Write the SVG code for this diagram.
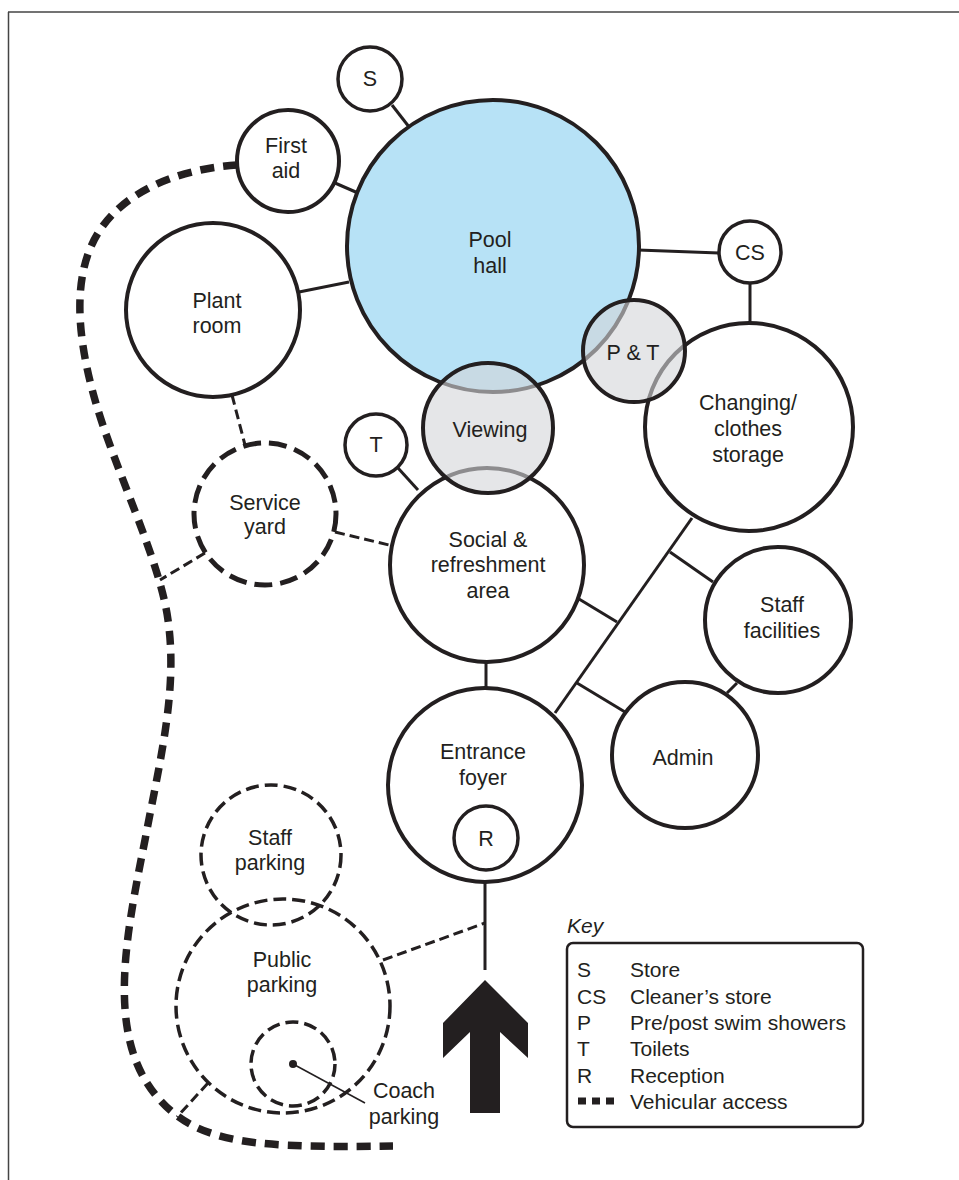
<svg xmlns="http://www.w3.org/2000/svg" width="959" height="1180" viewBox="0 0 959 1180">
<style>
text{font-family:"Liberation Sans",Arial,sans-serif;fill:#231f20;text-anchor:middle;font-size:21.5px}
.k{text-anchor:start;font-size:21px}
.n{fill:#fff;stroke:#231f20;stroke-width:4}
.sm{fill:#fff;stroke:#231f20;stroke-width:3.5}
.ov{fill:#d4d5d8;fill-opacity:0.6;stroke:#231f20;stroke-width:4}
.dc{fill:#fff;stroke:#231f20;stroke-width:3.5;stroke-dasharray:13 6}
.dy{fill:#fff;stroke:#231f20;stroke-width:5;stroke-dasharray:18 8}
.ln{stroke:#231f20;stroke-width:3;fill:none}
.dl{stroke:#231f20;stroke-width:3;fill:none;stroke-dasharray:10 5}
.va{stroke:#231f20;stroke-width:7.5;fill:none;stroke-dasharray:14 9}
</style>
<rect width="959" height="1180" fill="#fff"/>
<g id="frame" stroke="#444" stroke-width="1.5" fill="none">
<line x1="8" y1="12" x2="959" y2="12"/>
<line x1="8.5" y1="12" x2="8.5" y2="1180"/>
</g>
<g id="connectors">
<path class="va" d="M237,165 C190,168 130,185 100,230 C70,275 78,340 95,400 C115,470 160,560 168,620 C178,690 160,760 145,840 C125,940 105,1040 160,1100 C200,1145 260,1148 393,1146"/>
<line class="ln" x1="392" y1="105" x2="413" y2="132"/>
<line class="ln" x1="335" y1="183" x2="358" y2="193"/>
<line class="ln" x1="299" y1="292" x2="349" y2="282"/>
<line class="ln" x1="638" y1="250" x2="719" y2="253"/>
<line class="ln" x1="750" y1="283" x2="750" y2="323"/>
<line class="ln" x1="398" y1="468" x2="418" y2="490"/>
<line class="ln" x1="486" y1="662" x2="486" y2="688"/>
<line class="ln" x1="692" y1="518" x2="555" y2="713"/>
<line class="ln" x1="617" y1="622" x2="579" y2="599"/>
<line class="ln" x1="670" y1="552" x2="713" y2="582"/>
<line class="ln" x1="577" y1="683" x2="625" y2="712"/>
<line class="ln" x1="727" y1="693" x2="737" y2="683"/>
<line class="ln" x1="485" y1="882" x2="485" y2="970"/>
<line class="dl" x1="232" y1="395" x2="245" y2="445"/>
<line class="dl" x1="335" y1="532" x2="389" y2="545"/>
<line class="dl" x1="205" y1="553" x2="160" y2="580"/>
<line class="dl" x1="383" y1="960" x2="485" y2="923"/>
<line class="dl" x1="208" y1="1083" x2="177" y2="1117"/>
<line x1="293" y1="1064" x2="365" y2="1103" stroke="#231f20" stroke-width="1.5"/>
</g>
<g id="pool-hall"><circle cx="493" cy="246" r="146" fill="#b7e2f6" stroke="#231f20" stroke-width="4"/><text x="490" y="247">Pool</text><text x="490" y="273">hall</text></g>
<g id="store"><circle class="sm" cx="370" cy="79" r="32"/><text x="370" y="86">S</text></g>
<g id="first-aid"><circle class="n" cx="288" cy="161" r="51"/><text x="286" y="153">First</text><text x="286" y="178">aid</text></g>
<g id="plant-room"><circle class="n" cx="213" cy="310" r="87"/><text x="217" y="308">Plant</text><text x="217" y="333">room</text></g>
<g id="cleaners-store"><circle class="sm" cx="750" cy="252" r="31"/><text x="750" y="260">CS</text></g>
<g id="changing"><circle class="n" cx="749" cy="427" r="104"/><text x="748" y="410">Changing/</text><text x="748" y="436">clothes</text><text x="748" y="462">storage</text></g>
<g id="social"><circle class="n" cx="487" cy="565" r="97"/><text x="488" y="547">Social &amp;</text><text x="488" y="572">refreshment</text><text x="488" y="598">area</text></g>
<g id="toilets"><circle class="sm" cx="376" cy="445" r="31"/><text x="376" y="452">T</text></g>
<g id="service-yard"><circle class="dy" cx="265" cy="514" r="71"/><text x="265" y="510">Service</text><text x="265" y="534">yard</text></g>
<g id="staff-facilities"><circle class="n" cx="778" cy="620" r="73"/><text x="782" y="612">Staff</text><text x="782" y="638">facilities</text></g>
<g id="admin"><circle class="n" cx="685" cy="755" r="73"/><text x="683" y="765">Admin</text></g>
<g id="entrance"><circle class="n" cx="485" cy="785" r="97"/><text x="483" y="759">Entrance</text><text x="483" y="785">foyer</text></g>
<g id="reception"><circle class="sm" cx="486" cy="838" r="32"/><text x="486" y="846">R</text></g>
<g id="staff-parking"><circle class="dc" cx="271" cy="855" r="70"/><text x="270" y="845">Staff</text><text x="270" y="870">parking</text></g>
<g id="public-parking"><circle class="dc" cx="283" cy="1006" r="107" style="fill:none"/><text x="282" y="967">Public</text><text x="282" y="992">parking</text></g>
<g id="coach-parking"><circle class="dc" cx="293" cy="1064" r="42" style="fill:none"/><circle cx="293" cy="1064" r="4" fill="#231f20"/><text x="404" y="1098">Coach</text><text x="404" y="1124">parking</text></g>
<g id="viewing"><circle class="ov" cx="488" cy="428" r="65"/><text x="490" y="437">Viewing</text></g>
<g id="p-and-t"><circle class="ov" cx="634" cy="351" r="51"/><text x="633" y="360">P &amp; T</text></g>
<g id="entrance-arrow"><polygon points="485,980 528,1023 528,1058 500,1032 500,1113 470,1113 470,1032 443,1058 443,1023" fill="#231f20"/></g>
<g id="key">
<text class="k" x="567" y="933" font-style="italic">Key</text>
<rect x="567" y="943" width="296" height="184" rx="6" fill="none" stroke="#231f20" stroke-width="2.5"/>
<text class="k" x="577" y="977">S</text><text class="k" x="630" y="977">Store</text>
<text class="k" x="577" y="1004">CS</text><text class="k" x="630" y="1004">Cleaner’s store</text>
<text class="k" x="577" y="1030">P</text><text class="k" x="630" y="1030">Pre/post swim showers</text>
<text class="k" x="577" y="1056">T</text><text class="k" x="630" y="1056">Toilets</text>
<text class="k" x="577" y="1083">R</text><text class="k" x="630" y="1083">Reception</text>
<line x1="578" y1="1101" x2="614" y2="1101" stroke="#231f20" stroke-width="7" stroke-dasharray="8 6"/>
<text class="k" x="630" y="1109">Vehicular access</text>
</g>
</svg>
